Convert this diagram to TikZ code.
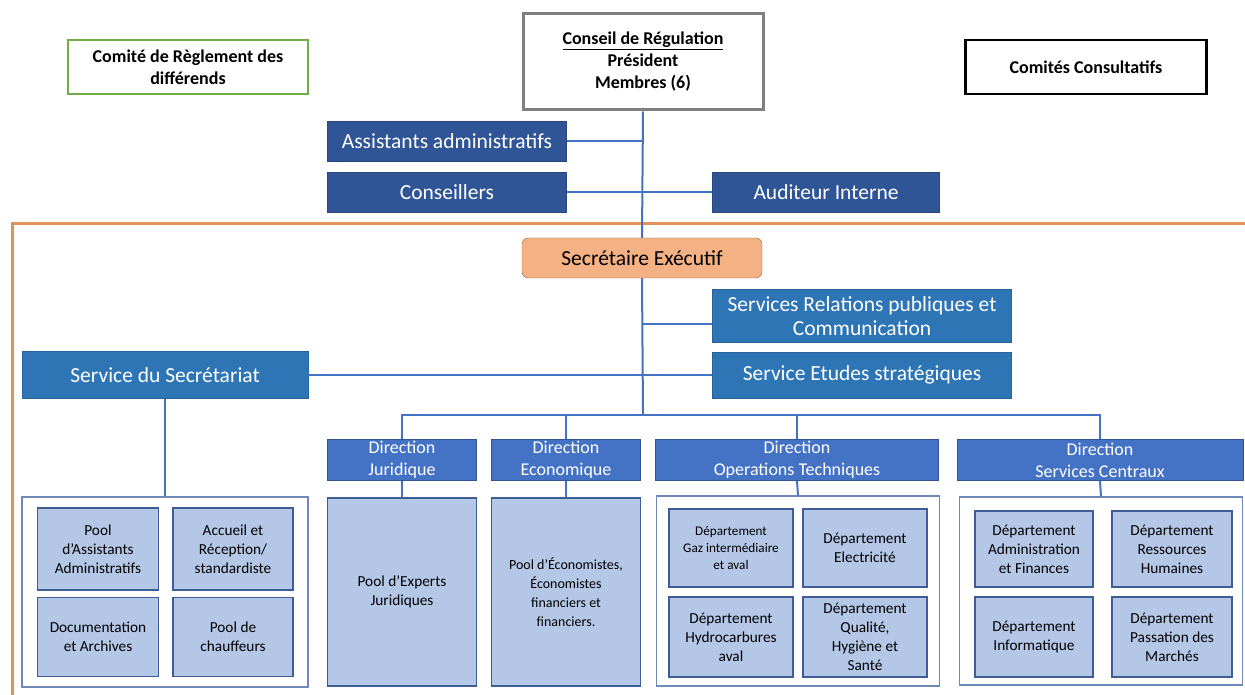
\documentclass[tikz,border=0pt]{standalone}
\usepackage{fontspec}
\setmainfont{Carlito}
\definecolor{navyc}{HTML}{2F5597}
\definecolor{bluec}{HTML}{2E75B6}
\definecolor{dirc}{HTML}{4472C4}
\definecolor{poolc}{HTML}{B4C7E7}
\definecolor{poolline}{HTML}{3D5D94}
\definecolor{groupc}{HTML}{7088B8}
\definecolor{linkc}{HTML}{4472C4}
\definecolor{execc}{HTML}{F4B183}
\definecolor{framec}{HTML}{E39257}
\definecolor{greenc}{HTML}{70AD47}
\begin{document}
\begin{tikzpicture}[
        x=1pt, y=-1pt,
        sz/.style 2 args={minimum width=#1pt, minimum height=#2pt},
        topn/.style={draw, line width=2.5pt, fill=white, align=center, inner sep=0pt,
            font=\fontsize{18}{22}\selectfont\bfseries},
        navyn/.style={fill=navyc, draw=navyc!85!black, text=white, align=center, inner sep=0pt,
            font=\fontsize{21.5}{24}\selectfont},
        bluen/.style={navyn, fill=bluec, draw=bluec!85!black},
        dirn/.style={navyn, fill=dirc, draw=navyc, line width=1pt, font=\fontsize{18}{22}\selectfont},
        execn/.style={navyn, fill=execc, draw=execc!60!black, text=black, rounded corners=6pt},
        groupn/.style={draw=groupc, line width=1.5pt, fill=white, inner sep=0pt},
        pooln/.style={fill=poolc, draw=poolline, line width=1.5pt, align=center, inner sep=2pt,
            font=\fontsize{15.3}{19}\selectfont},
        link/.style={draw=linkc, line width=2pt},
    ]
    \useasboundingbox (0,0) rectangle (1245,695);
    % orange frame round the secretariat
    \draw[framec, line width=3pt] (12,700) -- (12,224) -- (1250,224);

    % top level
    \node[topn, draw=greenc, sz={240}{54}] (comite) at (188,67) {Comité de Règlement des\\différends};
    \node[topn, draw=black!50, line width=3pt, sz={240}{96}] (conseil) at (643,62)
        {\underline{Conseil de Régulation}\\Président\\Membres (6)};
    \node[topn, draw=black, sz={241}{54}] (consult) at (1086,67) {Comités Consultatifs};

    \node[navyn, sz={239}{40}] (assist) at (447,141) {Assistants administratifs};
    \node[navyn, sz={239}{40}] (conseillers) at (447,192) {Conseillers};
    \node[navyn, sz={227}{40}] (auditeur) at (826,192) {Auditeur Interne};

    \node[execn, sz={240}{40}] (exec) at (642,258) {Secrétaire Exécutif};
    \node[bluen, sz={299}{53}] (srpc) at (862,316) {Services Relations publiques et\\Communication};
    \node[bluen, sz={299}{46}] (etudes) at (862,375) {Service Etudes stratégiques};
    \node[bluen, sz={286}{47}] (secr) at (165,375) {Service du Secrétariat};

    \coordinate (bus) at (643,415);

    % directions
    \node[dirn, sz={149}{41}] (dirjur) at (402,460) {Direction\\Juridique};
    \node[dirn, sz={149}{41}] (direco) at (566,460) {Direction\\Economique};
    \node[dirn, sz={283}{41}] (dirot) at (797,460) {Direction\\Operations Techniques};
    \node[dirn, sz={286}{41}] (dirsc) at (1100,460) {Direction\\Services Centraux};

    % secretariat pool
    \node[groupn, sz={286}{190}] (grpsecr) at (165,592) {};
    \node[pooln, sz={121}{82}] (poolassist) at (98,549) {Pool\\d’Assistants\\Administratifs};
    \node[pooln, sz={120}{82}] (accueil) at (233,549) {Accueil et\\Réception/\\standardiste};
    \node[pooln, sz={121}{79}] (docu) at (98,637) {Documentation\\et Archives};
    \node[pooln, sz={120}{79}] (chauff) at (233,637) {Pool de\\chauffeurs};

    \node[pooln, sz={149}{188}] (pooljur) at (402,592) {Pool d’Experts\\Juridiques};
    \node[pooln, sz={149}{188}, font=\fontsize{14}{19}\selectfont] (pooleco) at (566,592)
        {Pool d’Économistes,\\Économistes\\financiers et\\financiers.};

    % operations techniques
    \node[groupn, sz={283}{190}] (grpot) at (798,591) {};
    \node[pooln, sz={124}{78}, font=\fontsize{13.2}{17}\selectfont] (gaz) at (731,548)
        {Département\\Gaz intermédiaire\\et aval};
    \node[pooln, sz={124}{78}] (elec) at (865,548) {Département\\Electricité};
    \node[pooln, sz={124}{80}] (hydro) at (731,637) {Département\\Hydrocarbures\\aval};
    \node[pooln, sz={124}{80}] (qualite) at (865,637) {Département\\Qualité,\\Hygiène et\\Santé};

    % services centraux
    \node[groupn, sz={283}{188}] (grpsc) at (1101,591) {};
    \node[pooln, sz={118}{76}] (admin) at (1034,549) {Département\\Administration\\et Finances};
    \node[pooln, sz={120}{76}] (rh) at (1172,549) {Département\\Ressources\\Humaines};
    \node[pooln, sz={118}{80}] (info) at (1034,637) {Département\\Informatique};
    \node[pooln, sz={120}{80}] (passation) at (1172,637) {Département\\Passation des\\Marchés};

    % connectors
    \draw[link] (conseil.south) -- (exec.north);
    \draw[link] (exec.south) -- (bus);
    \draw[link] (assist.east) -- (assist.east -| conseil.south);
    \draw[link] (conseillers.east) -- (auditeur.west);
    \draw[link] (exec.south |- 0,324) -- ([yshift=-8pt]srpc.west);
    \draw[link] (secr.east) -- (etudes.west);
    \draw[link] (dirjur.north) -- (dirjur.north |- bus) -- (dirsc.north |- bus) -- (dirsc.north);
    \draw[link] (direco.north) -- (direco.north |- bus);
    \draw[link] (dirot.north) -- (dirot.north |- bus);
    \draw[link] (secr.south) -- (grpsecr.north);
    \draw[link] (dirjur.south) -- (pooljur.north);
    \draw[link] (direco.south) -- (pooleco.north);
    \draw[link] (dirot.south) -- (grpot.north);
    \draw[link] (dirsc.south) -- (grpsc.north);
\end{tikzpicture}
\end{document}
